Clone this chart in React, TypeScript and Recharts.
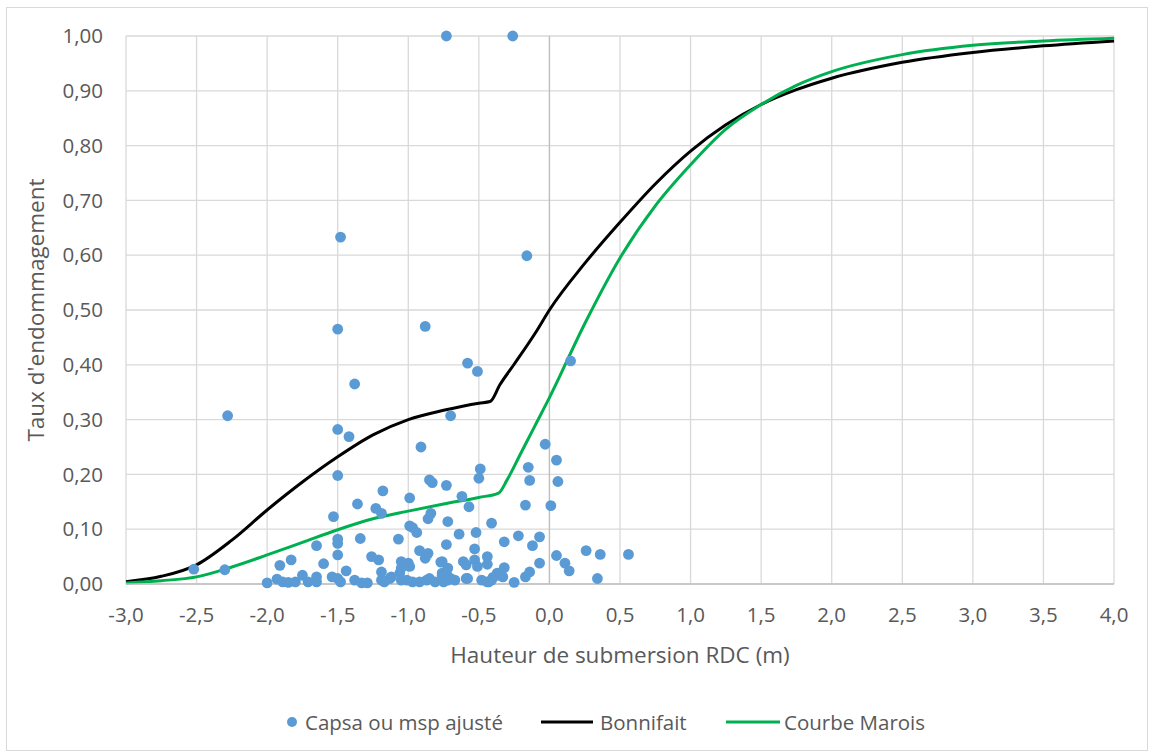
import {
  ComposedChart,
  Scatter,
  Line,
  XAxis,
  YAxis,
  CartesianGrid,
  ReferenceLine,
} from "recharts"

const FONT = '"Open Sans", sans-serif'
const TEXT = "#595959"
const BLUE = "#5b9bd5"
const GREEN = "#00b050"

// observed damage rates: [hauteur (m), taux]
const capsaPoints: [number, number][] = [
  [-0.73, 1.0], [-0.26, 1.0], [-1.48, 0.633], [-0.16, 0.599], [-1.5, 0.465], [-0.88, 0.47], [-0.58, 0.403], [-0.51, 0.388], [0.15, 0.407], [-1.38, 0.365],
  [-2.28, 0.307], [-0.7, 0.307], [-1.5, 0.282], [-1.42, 0.269], [-0.03, 0.255], [-0.91, 0.25], [0.05, 0.226], [-0.15, 0.213], [-0.49, 0.21], [-1.5, 0.198],
  [-0.5, 0.193], [-0.14, 0.189], [0.06, 0.187], [-0.85, 0.19], [-0.83, 0.185], [-0.73, 0.18], [-1.18, 0.17], [-0.62, 0.16], [-0.99, 0.157], [-1.36, 0.146],
  [-0.57, 0.141], [-0.17, 0.144], [0.01, 0.143], [-1.23, 0.138], [-1.19, 0.129], [-0.84, 0.129], [-0.86, 0.119], [-1.53, 0.123], [-0.72, 0.114], [-0.41, 0.111],
  [-0.99, 0.106], [-0.97, 0.103], [-0.94, 0.094], [-0.64, 0.091], [-0.52, 0.094], [-0.22, 0.088], [-0.07, 0.086], [-1.34, 0.083], [-1.5, 0.082], [-1.5, 0.074],
  [-1.07, 0.082], [-0.32, 0.077], [-0.12, 0.07], [-0.73, 0.072], [-1.65, 0.07], [-0.53, 0.064], [-0.92, 0.061], [-0.86, 0.056], [-0.88, 0.047], [0.05, 0.052],
  [0.26, 0.061], [0.36, 0.054], [0.56, 0.054], [-1.5, 0.053], [-1.26, 0.05], [-1.21, 0.044], [-1.83, 0.044], [-0.44, 0.05], [-0.44, 0.036], [-0.61, 0.041],
  [-0.59, 0.035], [-0.53, 0.044], [-0.51, 0.032], [-0.77, 0.04], [-0.72, 0.029], [-0.76, 0.02], [-0.07, 0.038], [0.11, 0.038], [0.14, 0.024], [0.34, 0.01],
  [-0.32, 0.03], [-0.14, 0.022], [-0.17, 0.013], [-0.25, 0.003], [-0.37, 0.02], [-0.4, 0.012], [-0.43, 0.004], [-0.48, 0.007], [-0.58, 0.01], [-0.67, 0.007],
  [-0.7, 0.01], [-0.75, 0.004], [-0.81, 0.004], [-0.85, 0.01], [-0.87, 0.007], [-0.92, 0.004], [-0.97, 0.004], [-1.01, 0.007], [-1.05, 0.007], [-1.06, 0.02],
  [-1.05, 0.041], [-1.0, 0.038], [-1.05, 0.029], [-0.99, 0.032], [-0.76, 0.041], [-0.76, 0.016], [-0.73, 0.02], [-0.72, 0.007], [-0.36, 0.016], [-0.33, 0.013],
  [-1.91, 0.034], [-1.6, 0.037], [-2.52, 0.027], [-2.3, 0.026], [-1.44, 0.024], [-1.19, 0.022], [-2.0, 0.002], [-1.93, 0.009], [-1.89, 0.004], [-1.85, 0.003],
  [-1.8, 0.004], [-1.75, 0.016], [-1.71, 0.004], [-1.65, 0.013], [-1.65, 0.004], [-1.54, 0.013], [-1.5, 0.01], [-1.48, 0.004], [-1.38, 0.007], [-1.33, 0.002],
  [-1.29, 0.002], [-1.19, 0.007], [-1.17, 0.004], [-1.13, 0.01], [-1.12, 0.013], [-0.59, 0.01], [-0.44, 0.004], [-0.41, 0.007],
]

const bonnifaitX = [-3.0, -2.75, -2.5, -2.25, -2.0, -1.75, -1.5, -1.25, -1.0, -0.75, -0.5, -0.42, -0.35, -0.25, -0.1, 0.0, 0.25, 0.5, 0.75, 1.0, 1.25, 1.5, 1.75, 2.0, 2.5, 3.0, 3.5, 4.0]
const bonnifaitY = [0.004, 0.014, 0.035, 0.08, 0.135, 0.186, 0.232, 0.272, 0.3, 0.317, 0.33, 0.333, 0.364, 0.401, 0.458, 0.5, 0.585, 0.66, 0.73, 0.79, 0.838, 0.875, 0.902, 0.923, 0.952, 0.97, 0.982, 0.991]

const maroisX = [-3.0, -2.75, -2.5, -2.25, -2.0, -1.75, -1.5, -1.25, -1.0, -0.75, -0.5, -0.36, -0.3, -0.2, -0.1, 0.0, 0.25, 0.5, 0.75, 1.0, 1.25, 1.5, 1.75, 2.0, 2.5, 3.0, 3.5, 4.0]
const maroisY = [0.002, 0.006, 0.013, 0.031, 0.053, 0.076, 0.099, 0.119, 0.133, 0.146, 0.158, 0.166, 0.19, 0.24, 0.29, 0.34, 0.475, 0.595, 0.69, 0.765, 0.83, 0.875, 0.91, 0.935, 0.966, 0.983, 0.991, 0.996]

const xTicks = [-3, -2.5, -2, -1.5, -1, -0.5, 0, 0.5, 1, 1.5, 2, 2.5, 3, 3.5, 4]
const yTicks = [0, 0.1, 0.2, 0.3, 0.4, 0.5, 0.6, 0.7, 0.8, 0.9, 1]

const capsaData = capsaPoints.map(([x, y]) => ({ x, y }))
const bonnifaitData = bonnifaitX.map((x, i) => ({ x, y: bonnifaitY[i] }))
const maroisData = maroisX.map((x, i) => ({ x, y: maroisY[i] }))

const fmt = (v: number, d: number) => v.toFixed(d).replace(".", ",")

const tickStyle = { fill: TEXT, fontSize: 20.5, fontFamily: FONT }

function Dot(props: any) {
  return <circle cx={props.cx} cy={props.cy} r={5.4} fill={BLUE} />
}

const legendText = {
  position: "absolute" as const,
  top: 722,
  transform: "translateY(-50%)",
  fontFamily: FONT,
  fontSize: 20.5,
  color: TEXT,
  whiteSpace: "nowrap" as const,
}

export default function App() {
  return (
    <div style={{ position: "absolute", left: 0, top: 0, width: 1153, height: 756, background: "#fff" }}>
      <div
        style={{
          position: "absolute",
          left: 6,
          top: 7,
          width: 1140,
          height: 742,
          border: "1px solid #d9d9d9",
        }}
      />
      <div style={{ position: "absolute", left: 0, top: 0 }}>
        <ComposedChart width={1153} height={756} margin={{ top: 36, right: 39, bottom: 142, left: 46 }}>
          <CartesianGrid stroke="#d9d9d9" strokeWidth={1.3} />
          <XAxis
            type="number"
            dataKey="x"
            domain={[-3, 4]}
            ticks={xTicks}
            interval={0}
            tickFormatter={(v: number) => fmt(v, 1)}
            tick={tickStyle}
            tickLine={false}
            tickSize={0}
            tickMargin={23}
            height={30}
            stroke="#bfbfbf"
            strokeWidth={1.3}
          />
          <YAxis
            type="number"
            dataKey="y"
            domain={[0, 1]}
            ticks={yTicks}
            interval={0}
            tickFormatter={(v: number) => fmt(v, 2)}
            tick={tickStyle}
            tickLine={false}
            axisLine={false}
            tickSize={0}
            tickMargin={23}
            width={80}
          />
          <ReferenceLine x={0} stroke="#bfbfbf" strokeWidth={1.3} />
          <Scatter
            name="Capsa ou msp ajusté"
            data={capsaData}
            dataKey="y"
            shape={Dot}
            isAnimationActive={false}
          />
          <Line
            name="Bonnifait"
            data={bonnifaitData}
            dataKey="y"
            type="monotone"
            stroke="#000000"
            strokeWidth={3}
            dot={false}
            activeDot={false}
            isAnimationActive={false}
          />
          <Line
            name="Courbe Marois"
            data={maroisData}
            dataKey="y"
            type="monotone"
            stroke={GREEN}
            strokeWidth={3}
            dot={false}
            activeDot={false}
            isAnimationActive={false}
          />
        </ComposedChart>
      </div>

      {/* axis titles */}
      <div
        style={{
          position: "absolute",
          left: 35,
          top: 310,
          transform: "translate(-50%, -50%) rotate(-90deg)",
          fontFamily: FONT,
          fontSize: 22.5,
          color: TEXT,
          whiteSpace: "nowrap",
        }}
      >
        Taux d'endommagement
      </div>
      <div
        style={{
          position: "absolute",
          left: 620,
          top: 654,
          transform: "translate(-50%, -50%)",
          fontFamily: FONT,
          fontSize: 22.5,
          color: TEXT,
          whiteSpace: "nowrap",
        }}
      >
        Hauteur de submersion RDC (m)
      </div>

      {/* legend */}
      <svg style={{ position: "absolute", left: 0, top: 712 }} width={1153} height={20}>
        <circle cx={292} cy={10} r={5} fill={BLUE} />
        <line x1={541} x2={593} y1={10} y2={10} stroke="#000000" strokeWidth={3} />
        <line x1={726} x2={780} y1={10} y2={10} stroke={GREEN} strokeWidth={3} />
      </svg>
      <div style={{ ...legendText, left: 305 }}>Capsa ou msp ajusté</div>
      <div style={{ ...legendText, left: 600 }}>Bonnifait</div>
      <div style={{ ...legendText, left: 784 }}>Courbe Marois</div>
    </div>
  )
}
